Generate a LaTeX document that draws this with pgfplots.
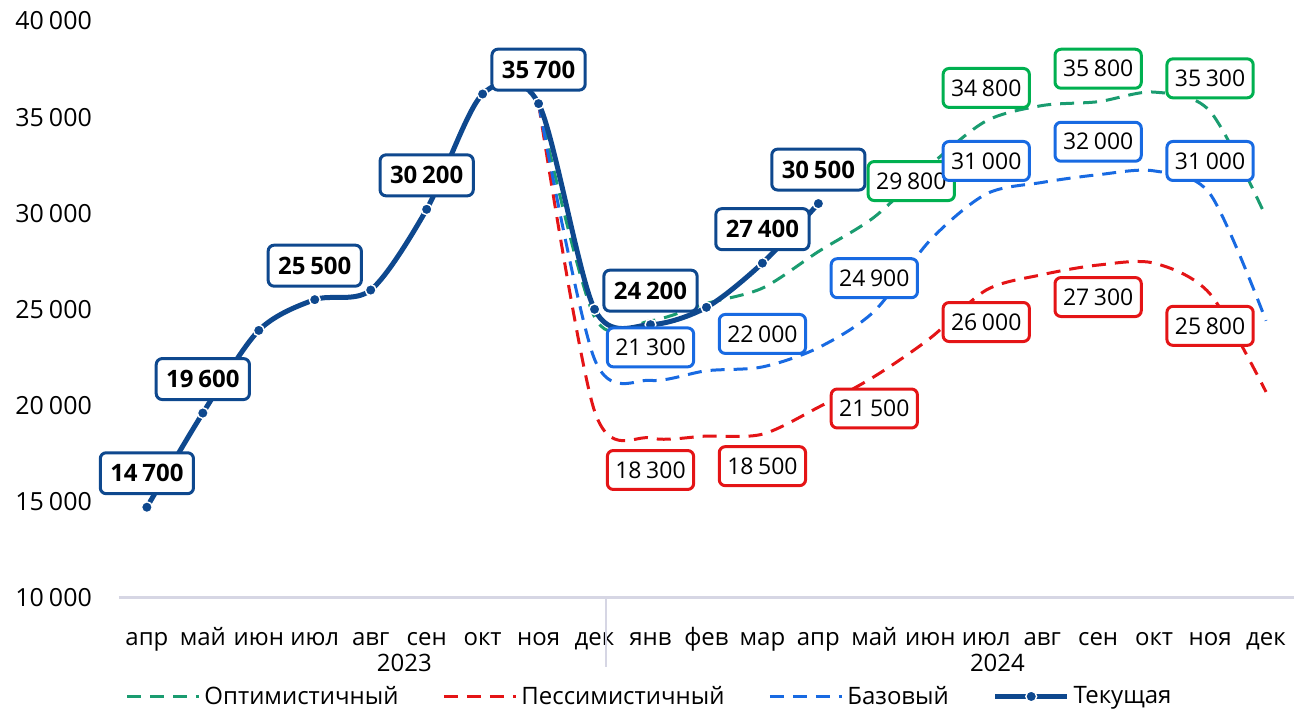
\documentclass[border=0pt]{standalone}
\usepackage{fontspec}
\setmainfont{Open Sans}
\usepackage{pgfplots}
\pgfplotsset{compat=1.18}
\usepackage{pgfplotstable}

\definecolor{curblue}{RGB}{14,72,142}
\definecolor{optline}{RGB}{26,156,112}
\definecolor{optbox}{RGB}{0,176,80}
\definecolor{pesred}{RGB}{228,20,22}
\definecolor{basblue}{RGB}{24,106,226}
\definecolor{axgray}{RGB}{214,214,228}

% current series
\pgfplotstableread{
x y
0 14700
1 19600
2 23900
3 25500
4 26000
5 30200
6 36200
7 35700
8 25000
9 24200
10 25100
11 27400
12 30500
}\current

\pgfplotstableread{
x y
7 35700
8 24600
9 24400
10 25300
11 26100
12 28000
13 29800
14 32500
15 34800
16 35600
17 35800
18 36300
19 35300
20 29800
}\optim

\pgfplotstableread{
x y
7 35700
8 19700
9 18300
10 18400
11 18500
12 19900
13 21500
14 23500
15 26000
16 26800
17 27300
18 27400
19 25800
20 20700
}\pessim

\pgfplotstableread{
x y
7 35700
8 22400
9 21300
10 21800
11 22000
12 23000
13 24900
14 28600
15 31000
16 31600
17 32000
18 32200
19 31000
20 24400
}\base

\tikzset{
  lbl/.style={draw=#1, fill=white, rounded corners=3pt, line width=1.5pt,
    inner xsep=4pt, inner ysep=0pt, minimum height=19.5pt, text=black,
    font=\fontsize{11.5}{11.5}\selectfont, anchor=center},
}
\pgfplotsset{
  lbls/.style n args={3}{draw=none, mark=none, forget plot, point meta=y,
    nodes near coords={\pgfmathprintnumber[fixed,precision=0,1000 sep={\kern0.2em}]{\pgfplotspointmeta}},
    every node near coord/.append style={lbl=#1, xshift=#2, yshift=#3}},
}

\begin{document}
\begin{tikzpicture}
\begin{axis}[
    scale only axis,
    width=588pt, height=288.5pt,
    xmin=-0.5, xmax=20.5,
    ymin=10000, ymax=40000,
    xtick={0,...,20},
    xticklabels={апр,май,июн,июл,авг,сен,окт,ноя,дек,янв,фев,мар,апр,май,июн,июл,авг,сен,окт,ноя,дек},
    ytick={10000,15000,...,40000},
    scaled y ticks=false,
    major tick length=0pt,
    axis x line*=bottom, axis y line*=left,
    y axis line style={draw=none},
    x axis line style={axgray, line width=1.2pt, -},
    /pgf/number format/assume math mode=true,
    yticklabel={\pgfmathprintnumber[fixed,precision=0,1000 sep={\kern0.2em}]{\tick}},
    yticklabel style={font=\fontsize{12.5}{12.5}\selectfont, anchor=east, xshift=-10pt},
    xticklabel style={font=\fontsize{12}{12}\selectfont, anchor=base, yshift=-24pt},
    clip=false,
    legend columns=4,
    legend style={at={(axis description cs:0.5,0)}, anchor=center, yshift=-49.5pt, xshift=-28pt,
      draw=none, fill=none, font=\fontsize{12}{12}\selectfont,
      /tikz/every even column/.append style={column sep=20pt}},
    legend image code/.code={\draw[mark repeat=2,mark phase=2,#1] plot coordinates {(0pt,0pt) (18pt,0pt) (36pt,0pt)};},
    every axis plot/.append style={smooth},
]
\addplot[optline, line width=1.5pt, dash pattern=on 7pt off 4.5pt, mark=none] table[x=x,y=y] {\optim};
\addlegendentry{Оптимистичный}
\addplot[pesred, line width=1.5pt, dash pattern=on 7pt off 4.5pt, mark=none] table[x=x,y=y] {\pessim};
\addlegendentry{Пессимистичный}
\addplot[basblue, line width=1.5pt, dash pattern=on 7pt off 4.5pt, mark=none] table[x=x,y=y] {\base};
\addlegendentry{Базовый}
\addplot[curblue, line width=2.5pt, mark=*, mark size=2.7pt,
  mark options={solid, fill=curblue, draw=white, line width=0.7pt}] table[x=x,y=y] {\current};
\addlegendentry{Текущая}

% data labels
\addplot[lbls={curblue}{0pt}{17pt}, every node near coord/.append style={font=\fontsize{12}{12}\bfseries, minimum height=20.5pt, inner xsep=5pt}]
  coordinates {(0,14700) (1,19600) (3,25500) (5,30200) (7,35700) (9,24200) (11,27400) (12,30500)};
\addplot[lbls={optbox}{0pt}{16.5pt}] coordinates {(15,34800) (17,35800) (19,35300)};
\addplot[lbls={optbox}{18.5pt}{18pt}] coordinates {(13,29800)};
\addplot[lbls={basblue}{0pt}{16.5pt}] coordinates {(9,21300) (11,22000) (13,24900) (15,31000) (17,32000) (19,31000)};
\addplot[lbls={pesred}{0pt}{-16pt}] coordinates {(9,18300) (11,18500) (13,21500) (15,26000) (17,27300) (19,25800)};

% year separator and year labels
\draw[axgray, line width=0.8pt] (axis cs:8.2,10000) -- ++(0pt,-35pt);
\node[anchor=base, font=\fontsize{12}{12}\selectfont, yshift=-37pt] at (axis cs:4.6,10000) {2023};
\node[anchor=base, font=\fontsize{12}{12}\selectfont, yshift=-37pt] at (axis cs:15.2,10000) {2024};

\coordinate (sw) at (rel axis cs:0,0);
\coordinate (ne) at (rel axis cs:1,1);
\end{axis}
\pgfresetboundingbox
\path[use as bounding box] ([shift={(-59.5pt,-56.5pt)}]sw) rectangle ([shift={(0pt,10.5pt)}]ne);
\end{tikzpicture}
\end{document}
